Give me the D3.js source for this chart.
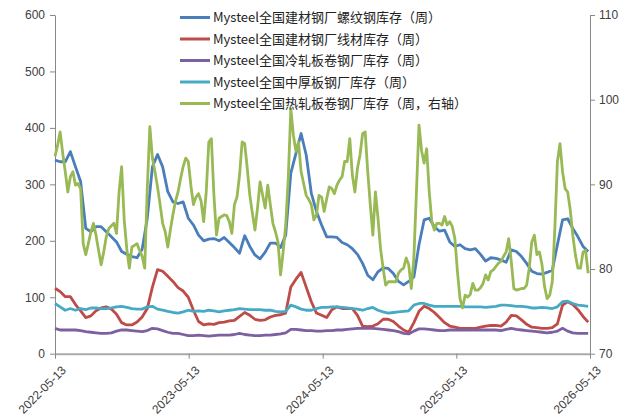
<!DOCTYPE html>
<html>
<head>
<meta charset="utf-8">
<script src="https://cdn.jsdelivr.net/npm/d3@7"></script>
<style>
  body { margin: 0; background: #fff; }
  svg { display: block; }
</style>
</head>
<body>
<div id="chart"></div>
<script>
// Series names (legend order)
const seriesNames = [
  "Mysteel全国建材钢厂螺纹钢库存（周）",
  "Mysteel全国建材钢厂线材库存（周）",
  "Mysteel全国冷轧板卷钢厂库存（周）",
  "Mysteel全国中厚板钢厂库存（周）",
  "Mysteel全国热轧板卷钢厂库存（周，右轴）"
];
const tickLabels = ["2022-05-13", "2023-05-13", "2024-05-13", "2025-05-13", "2026-05-13"];

// Left axis series, one value every two weeks from 2022-05-13
const rebarStock = [
  343, 340, 340, 358, 331, 305, 222, 216, 225, 225,
  216, 207, 198, 181, 176, 172, 170, 185, 240, 331,
  353, 331, 287, 269, 266, 269, 240, 228, 210, 200,
  203, 204, 200, 206, 197, 188, 178, 209, 190, 175,
  168, 180, 196, 196, 188, 210, 320, 355, 390, 352,
  284, 252, 228, 207, 207, 206, 197, 193, 186, 176,
  160, 139, 131, 145, 152, 151, 142, 128, 122, 128,
  136, 193, 237, 240, 225, 217, 219, 198, 190, 193,
  186, 184, 186, 176, 164, 170, 169, 166, 162, 184,
  181, 172, 160, 146, 142, 141, 144, 148, 193, 237,
  239, 222, 207, 190, 181
];
const wireStock = [
  116, 110, 101, 101, 87, 76, 64, 67, 76, 81,
  83, 79, 70, 55, 51, 51, 56, 65, 80, 118,
  149, 146, 137, 128, 117, 111, 100, 77, 57, 51,
  53, 52, 55, 56, 58, 59, 66, 73, 68, 61,
  59, 60, 65, 68, 69, 72, 118, 132, 144, 118,
  92, 72, 68, 64, 78, 83, 80, 80, 80, 68,
  49, 48, 49, 53, 61, 61, 57, 49, 42, 38,
  55, 75, 84, 80, 73, 64, 55, 49, 47, 45,
  45, 45, 45, 47, 49, 50, 50, 49, 56, 68,
  67, 60, 52, 47, 46, 45, 45, 46, 53, 86,
  92, 87, 78, 66, 56
];
const coldRolledStock = [
  45, 42, 42, 42, 42, 41, 39, 38, 37, 36,
  36, 37, 40, 42, 42, 41, 40, 39, 41, 45,
  44, 41, 38, 36, 36, 34, 32, 32, 33, 32,
  31, 32, 33, 33, 33, 34, 36, 34, 33, 32,
  32, 33, 33, 34, 35, 37, 43, 43, 42, 41,
  41, 40, 40, 41, 41, 42, 42, 43, 44, 45,
  45, 45, 45, 44, 43, 42, 41, 39, 36, 35,
  40, 44, 44, 43, 42, 41, 41, 42, 42, 42,
  42, 42, 42, 42, 42, 42, 42, 41, 43, 45,
  43, 42, 41, 40, 39, 38, 37, 38, 40, 45,
  40, 37, 36, 36, 36
];
const plateStock = [
  89, 83, 77, 80, 77, 80, 78, 81, 81, 80,
  80, 81, 83, 84, 82, 80, 79, 79, 83, 84,
  79, 77, 75, 73, 72, 74, 77, 75, 76, 75,
  77, 76, 74, 76, 77, 78, 80, 79, 78, 78,
  78, 77, 77, 75, 74, 75, 86, 83, 79, 77,
  77, 80, 82, 82, 83, 83, 82, 81, 80, 79,
  77, 80, 82, 77, 74, 72, 73, 74, 75, 76,
  86, 89, 89, 86, 84, 84, 84, 84, 84, 84,
  83, 83, 83, 83, 82, 83, 84, 86, 86, 85,
  84, 84, 83, 81, 81, 82, 81, 80, 83, 92,
  93, 89, 86, 85, 84
];
// Right axis series, one value every week from 2022-05-13
const hotRolledStock = [
  93.3, 94.6, 96.2, 93.7, 91.5, 89.1, 90.9, 91.5, 89.9, 90.1,
  89.5, 83.0, 81.7, 83.0, 84.4, 85.4, 84.0, 82.2, 80.5, 82.0,
  83.8, 84.8, 85.1, 85.4, 84.2, 89.1, 92.1, 85.8, 82.4, 80.1,
  82.6, 82.8, 83.0, 82.2, 81.5, 80.1, 89.5, 96.8, 93.1, 91.5,
  89.7, 87.6, 85.4, 84.4, 82.6, 84.6, 86.4, 88.0, 89.1, 90.7,
  92.1, 93.1, 92.7,
  89.9, 87.6, 88.5, 88.9, 88.0, 85.6, 89.1, 95.0, 95.4, 88.7,
  84.0, 86.0, 86.2, 86.4, 86.3, 85.6, 84.2, 87.6, 88.5, 91.1,
  95.0, 94.8, 91.9, 88.7, 86.6, 84.6, 87.2, 90.3, 88.7, 87.2,
  89.9, 87.6, 85.4, 84.4, 83.2, 79.3, 82.0, 85.2, 90.7, 98.9,
  95.8, 93.9, 95.0, 91.5, 90.1, 88.7, 88.2, 87.6, 85.8, 86.4,
  88.7, 88.5,
  86.8, 88.3, 89.7, 89.5, 88.9, 89.9, 90.5, 90.9, 92.7, 92.7,
  95.4, 91.1, 89.1, 91.9, 93.5, 96.0, 96.2, 91.5, 87.6, 84.0,
  89.1, 86.0, 82.4, 80.1, 78.1, 78.5, 78.5, 78.5, 78.5, 79.5,
  79.9, 80.1, 81.3, 80.5, 77.7, 81.3, 89.1, 97.0, 94.0, 92.5,
  94.2, 89.1, 85.6, 84.6, 85.4, 85.4, 85.2, 86.2, 85.2, 85.6,
  85.0, 83.6,
  79.7, 76.5, 75.4, 76.9, 76.7, 77.0, 78.3, 77.5, 77.5, 77.8,
  78.3, 79.3, 78.7, 79.7, 79.9, 80.3, 80.7, 80.9, 81.5, 82.0,
  83.6, 80.9, 77.7, 77.5, 77.6, 77.7, 77.7, 78.1, 80.1, 83.2,
  84.0, 81.7, 82.0, 80.5, 77.9, 76.5, 76.9, 78.5, 84.8, 92.7,
  94.8, 91.5, 89.5, 89.1, 87.0, 84.0, 81.7, 80.1, 80.1, 82.0,
  82.2, 79.5
];
const colors = ["#4A7EBB", "#BE4B48", "#7D60A0", "#46AAC5", "#98B954"];

const width = 631, height = 416;
const parse = d3.timeParse("%Y-%m-%d");
const start = parse(tickLabels[0]);
const biweekly = rebarStock.map((d, i) => d3.timeDay.offset(start, i * 14));
const weekly = hotRolledStock.map((d, i) => d3.timeDay.offset(start, i * 7));

const svg = d3.select("#chart").append("svg")
  .attr("width", width)
  .attr("height", height)
  .style("font-family", "'Liberation Sans', Arial, sans-serif");

const x = d3.scaleTime()
  .domain([start, parse(tickLabels[tickLabels.length - 1])])
  .range([55, 590]);
const yLeft = d3.scaleLinear().domain([0, 600]).range([353.7, 15]);
const yRight = d3.scaleLinear().domain([70, 110]).range([353.7, 15]);

// Axes
const styleAxis = g => {
  g.select(".domain").attr("stroke", "#888");
  g.selectAll(".tick line").attr("stroke", "#888");
  g.selectAll("text").attr("fill", "#404040").style("font-size", "12px");
};

svg.append("g")
  .attr("transform", "translate(55,0)")
  .call(d3.axisLeft(yLeft).tickValues(d3.range(0, 601, 100)).tickSize(5).tickPadding(5).tickSizeOuter(0))
  .call(styleAxis);

svg.append("g")
  .attr("transform", "translate(590,0)")
  .call(d3.axisRight(yRight).tickValues(d3.range(70, 111, 10)).tickSize(5).tickPadding(4).tickSizeOuter(0))
  .call(styleAxis);

const xAxis = svg.append("g")
  .attr("transform", "translate(0,353.7)")
  .call(d3.axisBottom(x).tickValues(tickLabels.map(parse)).tickFormat(d3.timeFormat("%Y-%m-%d")).tickSize(5).tickSizeOuter(0))
  .call(styleAxis);
xAxis.selectAll(".domain").attr("stroke-width", 2).attr("stroke", "#aaa");
xAxis.selectAll("text")
  .attr("text-anchor", "end")
  .attr("transform", "translate(2,8) rotate(-45)")
  .attr("dy", "0.6em")
  .attr("y", 6)
  .attr("x", 0);

// Lines
const lineLeft = d3.line().x((d, i) => x(biweekly[i])).y(d => yLeft(d));
const lineRight = d3.line().x((d, i) => x(weekly[i])).y(d => yRight(d));

[rebarStock, wireStock, coldRolledStock, plateStock].forEach((series, k) => {
  svg.append("path")
    .datum(series)
    .attr("fill", "none")
    .attr("stroke", colors[k])
    .attr("stroke-width", 2.8)
    .attr("stroke-linejoin", "round")
    .attr("d", lineLeft);
});

svg.append("path")
  .datum(hotRolledStock)
  .attr("fill", "none")
  .attr("stroke", colors[4])
  .attr("stroke-width", 2.8)
  .attr("stroke-linejoin", "round")
  .attr("d", lineRight);

// Legend
const legend = svg.append("g").attr("transform", "translate(180,17.5)");
seriesNames.forEach((name, k) => {
  const row = legend.append("g").attr("transform", `translate(0,${k * 21.5})`);
  row.append("line")
    .attr("x1", 0).attr("x2", 30)
    .attr("stroke", colors[k])
    .attr("stroke-width", 3);
  row.append("text")
    .attr("x", 33)
    .attr("dy", "0.35em")
    .style("font-family", "'Noto Sans CJK SC', sans-serif")
    .style("font-size", "13px")
    .attr("fill", "#222")
    .text(name);
});
</script>
</body>
</html>
